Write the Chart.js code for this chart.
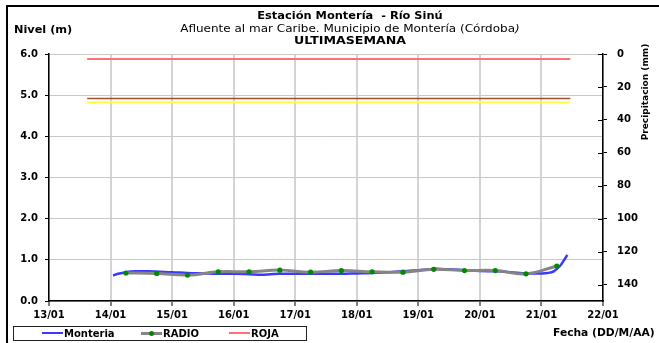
<!DOCTYPE html>
<html>
<head>
<meta charset="utf-8">
<script src="https://cdn.jsdelivr.net/npm/chart.js@4/dist/chart.umd.min.js"></script>
<style>
  html, body { margin: 0; padding: 0; background: #fff; }
  #wrap { position: relative; width: 659px; height: 343px; overflow: hidden; font-family: "DejaVu Sans", sans-serif; }
  #c { position: absolute; left: 0; top: 0; }
  .t { position: absolute; white-space: nowrap; color: #000; }
  .ctr { left: 0; width: 700px; text-align: center; transform-origin: 350px 50%; }
  #frame { position: absolute; left: 6px; top: 5px; width: 700px; height: 400px; border-left: 2px solid #000; border-top: 2px solid #000; }
  #legend { position: absolute; left: 13px; top: 326px; width: 292px; height: 13px; border: 1px solid #222; background: #fff; }
  .li { position: absolute; top: 0; font: bold 10px "DejaVu Sans", sans-serif; line-height: 13px; }
  .ln { position: absolute; }
</style>
</head>
<body>
<div id="wrap">
  <div id="frame"></div>
  <canvas id="c" width="659" height="343"></canvas>
  <div class="t ctr" style="top:10px;font:bold 10px 'DejaVu Sans',sans-serif;transform:scaleX(1.14);">Estación Montería&nbsp; - Río Sinú</div>
  <div class="t ctr" style="top:23px;font:10px 'DejaVu Sans',sans-serif;transform:scaleX(1.2);">Afluente al mar Caribe. Municipio de Montería (Córdoba<i>)</i></div>
  <div class="t ctr" style="top:35px;font:bold 10px 'DejaVu Sans',sans-serif;transform:scaleX(1.26);">ULTIMASEMANA</div>
  <div class="t" style="left:14px;top:24px;font:bold 10px 'DejaVu Sans',sans-serif;transform:scaleX(1.13);transform-origin:0 50%;">Nivel (m)</div>
  <div class="t" style="left:595px;top:87px;width:100px;text-align:center;transform:rotate(-90deg);font:bold 9px 'DejaVu Sans',sans-serif;">Precipitacion (mm)</div>
  <div class="t" style="left:553px;top:327px;font:bold 10px 'DejaVu Sans',sans-serif;transform:scaleX(1.07);transform-origin:0 50%;">Fecha (DD/M/AA)</div>
  <div id="legend"></div>
</div>
<script>
// ---- data ----
const monteriaX = [14.04, 14.12, 14.25, 14.4, 14.6, 14.8, 15.0, 15.25, 15.5, 15.75, 16.0, 16.25, 16.45, 16.6, 16.75, 17.0, 17.25, 17.5, 17.75, 18.0, 18.25, 18.5, 18.75, 19.0, 19.25, 19.5, 19.75, 20.0, 20.25, 20.5, 20.75, 21.0, 21.1, 21.2, 21.3, 21.37, 21.42];
const monteriaY = [0.62, 0.66, 0.70, 0.72, 0.72, 0.71, 0.70, 0.68, 0.67, 0.66, 0.66, 0.65, 0.64, 0.65, 0.66, 0.66, 0.66, 0.66, 0.66, 0.67, 0.68, 0.70, 0.72, 0.75, 0.78, 0.77, 0.75, 0.73, 0.72, 0.70, 0.67, 0.67, 0.68, 0.72, 0.85, 1.00, 1.12];
const radioX = [14.25, 14.75, 15.25, 15.75, 16.25, 16.75, 17.25, 17.75, 18.25, 18.75, 19.25, 19.75, 20.25, 20.75, 21.25];
const radioY = [0.68, 0.67, 0.63, 0.71, 0.71, 0.75, 0.70, 0.74, 0.71, 0.70, 0.77, 0.74, 0.74, 0.66, 0.85];
const thresholdX = [13.62, 21.47];
const rojaLevel = 5.88;
const naranjaLevel = 4.92;
const amarillaLevel = 4.83;
const xTicks = [13, 14, 15, 16, 17, 18, 19, 20, 21, 22];
const levelTicks = [0, 1, 2, 3, 4, 5, 6];
const rainTicks = [0, 20, 40, 60, 80, 100, 120, 140];

const pts = (xs, ys) => xs.map((x, i) => ({ x, y: ys[i] }));
const flat = (lvl) => thresholdX.map(x => ({ x, y: lvl }));

const tickFont = { family: 'DejaVu Sans', size: 10, weight: 'bold' };

const innerTicks = {
  id: 'innerTicks',
  afterDraw(chart) {
    const s = chart.scales.y2, ctx = chart.ctx;
    ctx.save();
    ctx.strokeStyle = '#000'; ctx.lineWidth = 1;
    s.ticks.forEach(t => {
      const y = Math.round(s.getPixelForValue(t.value)) + 0.5;
      ctx.beginPath(); ctx.moveTo(s.left - 5, y); ctx.lineTo(s.left, y); ctx.stroke();
    });
    ctx.restore();
  }
};

new Chart(document.getElementById('c'), {
  type: 'line',
  data: {
    datasets: [
      { label: 'Monteria', data: pts(monteriaX, monteriaY), borderColor: '#3a3aff', borderWidth: 2.5, pointRadius: 0, tension: 0.35, order: 2, yAxisID: 'y' },
      { label: 'RADIO', data: pts(radioX, radioY), borderColor: '#858585', borderWidth: 3, pointRadius: 2.6, pointBorderWidth: 0, pointBackgroundColor: '#008a00', pointBorderColor: '#008a00', tension: 0.4, order: 1, yAxisID: 'y' },
      { label: 'ROJA', data: flat(rojaLevel), borderColor: '#ff7070', borderWidth: 2, pointRadius: 0, order: 3, yAxisID: 'y' },
      { label: 'NARANJA', data: flat(naranjaLevel), borderColor: '#a0522d', borderWidth: 1.5, pointRadius: 0, order: 3, yAxisID: 'y' },
      { label: 'AMARILLA', data: flat(amarillaLevel), borderColor: '#ffff40', borderWidth: 2, pointRadius: 0, order: 3, yAxisID: 'y' }
    ]
  },
  options: {
    responsive: false,
    animation: false,
    devicePixelRatio: 1,
    layout: { padding: { top: 54, left: 0, right: 0, bottom: 0 } },
    plugins: { legend: { display: false }, tooltip: { enabled: false } },
    scales: {
      x: {
        type: 'linear', position: 'bottom', min: 13, max: 22,
        afterBuildTicks: s => { s.ticks = xTicks.map(v => ({ value: v })); },
        afterFit: s => { s.height = 42; },
        ticks: { font: tickFont, color: '#000', padding: 3, maxRotation: 0,
                 callback: v => String(v).padStart(2, '0') + '/01' },
        grid: { color: '#d3d3d3', lineWidth: 2, tickColor: '#000', tickLength: 5, tickWidth: 1 },
        border: { color: '#000', width: 1.5 }
      },
      y: {
        position: 'left', min: 0, max: 6,
        afterBuildTicks: s => { s.ticks = levelTicks.map(v => ({ value: v })); },
        afterFit: s => { s.width = 49; },
        ticks: { font: tickFont, color: '#000', padding: 7, callback: v => v.toFixed(1) },
        grid: { color: '#c8c8c8', lineWidth: 1, tickColor: '#000', tickLength: 4, tickWidth: 1 },
        border: { color: '#000', width: 1.5 }
      },
      y2: {
        position: 'right', min: 0, max: 150, reverse: true,
        afterBuildTicks: s => { s.ticks = rainTicks.map(v => ({ value: v })); },
        afterFit: s => { s.width = 56; },
        ticks: { font: tickFont, color: '#000', padding: 10 },
        grid: { drawOnChartArea: false, tickColor: '#000', tickLength: 4, tickWidth: 1 },
        border: { color: '#000', width: 1.5 }
      }
    }
  },
  plugins: [innerTicks]
});

// ---- legend (HTML) ----
const legendItems = [
  { name: 'Monteria', color: '#3a3aff', w: 2, x: 28, marker: false },
  { name: 'RADIO', color: '#858585', w: 3, x: 127, marker: true },
  { name: 'ROJA', color: '#ff7070', w: 2, x: 215, marker: false }
];
const lg = document.getElementById('legend');
legendItems.forEach(it => {
  const ln = document.createElement('div');
  ln.className = 'ln';
  ln.style.cssText = `left:${it.x}px;top:${6 - Math.floor(it.w / 2)}px;width:21px;height:${it.w}px;background:${it.color};`;
  lg.appendChild(ln);
  if (it.marker) {
    const d = document.createElement('div');
    d.className = 'ln';
    d.style.cssText = `left:${it.x + 8}px;top:4px;width:5px;height:5px;border-radius:50%;background:#008a00;`;
    lg.appendChild(d);
  }
  const tx = document.createElement('div');
  tx.className = 'li';
  tx.style.left = (it.x + 22) + 'px';
  tx.textContent = it.name;
  lg.appendChild(tx);
});
</script>
</body>
</html>
